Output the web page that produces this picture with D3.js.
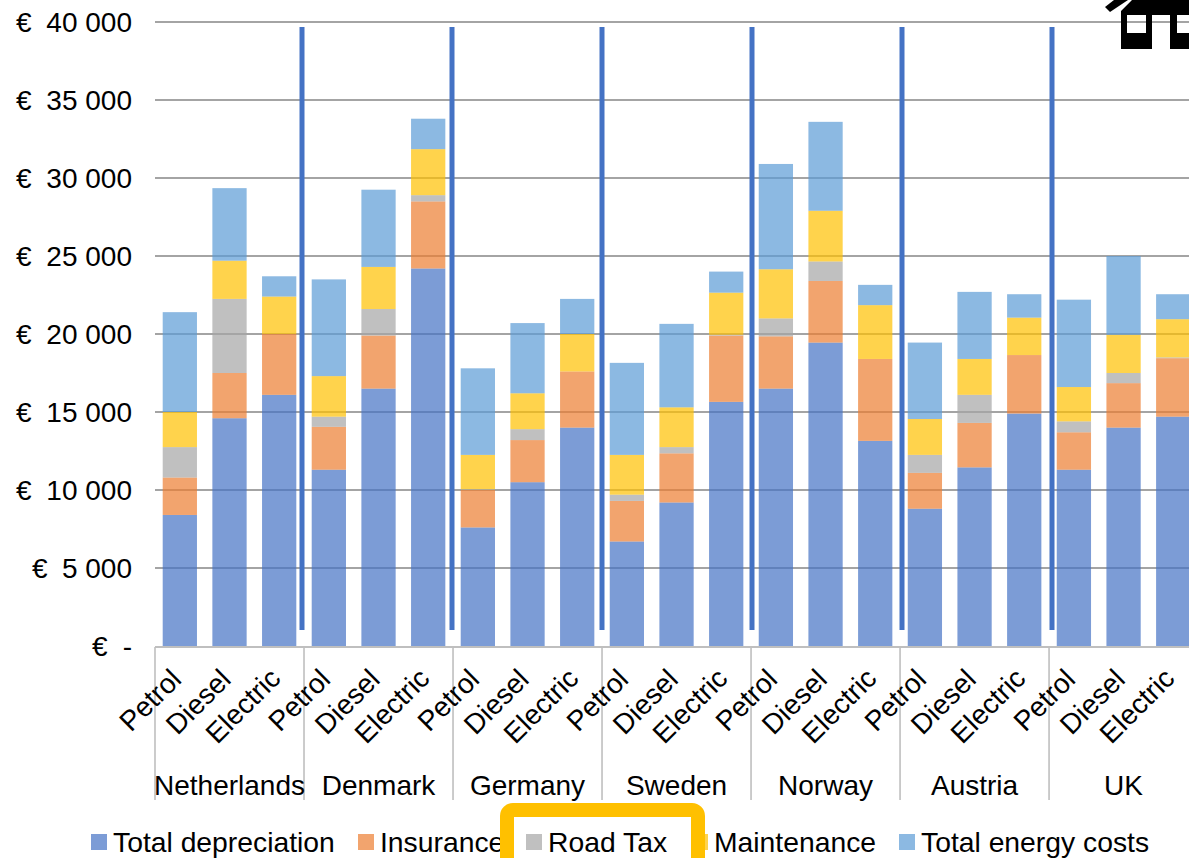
<!DOCTYPE html>
<html>
<head>
<meta charset="utf-8">
<script src="https://cdn.jsdelivr.net/npm/d3@7"></script>
<style>
  html, body { margin: 0; padding: 0; background: #fff; overflow: hidden; }
  text { font-family: "Liberation Sans", Arial, sans-serif; fill: #000; }
</style>
</head>
<body>
<svg id="chart" width="1189" height="858"></svg>
<script>
const countries = ['Netherlands', 'Denmark', 'Germany', 'Sweden', 'Norway', 'Austria', 'UK'];
const fuels = ['Petrol', 'Diesel', 'Electric'];
const seriesNames = ['Total depreciation', 'Insurance', 'Road Tax', 'Maintenance', 'Total energy costs'];
const seriesColors = ['#4472c4', '#ed7d31', '#a5a5a5', '#ffc000', '#5b9bd5'];
const yTicks = [0, 5000, 10000, 15000, 20000, 25000, 30000, 35000, 40000];

// values per bar, left to right: Petrol, Diesel, Electric for each country
const depreciation = [8400, 14600, 16100, 11300, 16500, 24200, 7600, 10500, 14000, 6700, 9200, 15650, 16500, 19450, 13150, 8800, 11450, 14900, 11300, 14000, 14700];
const insurance = [2400, 2900, 3900, 2750, 3400, 4300, 2400, 2700, 3600, 2600, 3150, 4250, 3350, 3950, 5250, 2300, 2850, 3750, 2400, 2850, 3750];
const roadTax = [1950, 4750, 0, 650, 1700, 400, 50, 700, 0, 400, 400, 50, 1150, 1250, 0, 1150, 1800, 0, 700, 650, 50];
const maintenance = [2250, 2450, 2400, 2600, 2700, 2950, 2200, 2300, 2400, 2550, 2550, 2700, 3150, 3250, 3450, 2300, 2300, 2400, 2200, 2450, 2450];
const energy = [6400, 4650, 1300, 6200, 4950, 1950, 5550, 4500, 2250, 5900, 5350, 1350, 6750, 5700, 1300, 4900, 4300, 1500, 5600, 5050, 1600];

const width = 1189, height = 858;
const svg = d3.select('#chart');
const fontSize = '28px';

const bars = d3.range(depreciation.length).map(i => ({
  i: i,
  0: depreciation[i], 1: insurance[i], 2: roadTax[i], 3: maintenance[i], 4: energy[i]
}));

const x = d3.scaleBand()
  .domain(d3.range(bars.length))
  .range([155, 155 + 49.67 * bars.length])
  .paddingInner(0.31)
  .paddingOuter(0.155);
const xGroup = d3.scaleLinear().domain([0, countries.length]).range([155, 155 + 49.67 * bars.length]);
const y = d3.scaleLinear().domain([0, 40000]).range([646, 22]);

// gridlines
svg.append('g').selectAll('line')
  .data(yTicks.slice(1))
  .enter().append('line')
  .attr('x1', 155).attr('x2', width)
  .attr('y1', d => y(d)).attr('y2', d => y(d))
  .attr('stroke', '#868686').attr('stroke-width', 1.6);

// stacked bars
const stack = d3.stack().keys(d3.range(seriesNames.length));
svg.append('g').selectAll('g')
  .data(stack(bars))
  .enter().append('g')
  .attr('fill', (d, i) => seriesColors[i])
  .attr('fill-opacity', 0.7)
  .selectAll('rect')
  .data(d => d)
  .enter().append('rect')
  .attr('x', d => x(d.data.i))
  .attr('width', x.bandwidth())
  .attr('y', d => y(d[1]))
  .attr('height', d => y(d[0]) - y(d[1]));

// y axis labels, euro sign sits apart from the number
const fmt = v => v === 0 ? '-' : d3.format(',')(v).replace(',', ' ');
const yAxis = svg.append('g')
  .attr('transform', 'translate(132,1)')
  .call(d3.axisLeft(y).tickValues(yTicks).tickSize(0).tickPadding(0).tickFormat(fmt));
yAxis.select('.domain').remove();
yAxis.selectAll('text').style('font-size', fontSize).style('font-family', '"Liberation Sans", Arial, sans-serif').attr('fill', '#000');
svg.append('g').selectAll('text')
  .data(yTicks)
  .enter().append('text')
  .attr('x', d => d === 5000 ? 32 : d === 0 ? 92 : 16)
  .attr('y', d => y(d) + 1)
  .attr('dy', '0.32em')
  .style('font-size', fontSize)
  .text('€');

// category axis
svg.append('line')
  .attr('x1', 155).attr('x2', width)
  .attr('y1', 647).attr('y2', 647)
  .attr('stroke', '#bfbfbf').attr('stroke-width', 2);
svg.append('g').selectAll('line')
  .data(d3.range(countries.length))
  .enter().append('line')
  .attr('x1', d => xGroup(d)).attr('x2', d => xGroup(d))
  .attr('y1', 647).attr('y2', 800)
  .attr('stroke', '#bfbfbf').attr('stroke-width', 1.6);

svg.append('g').selectAll('text')
  .data(bars)
  .enter().append('text')
  .attr('transform', d => `translate(${x(d.i) + x.bandwidth() / 2 + 3},${d.i % 3 === 2 ? 680 : 681}) rotate(-45)`)
  .attr('text-anchor', 'end')
  .style('font-size', fontSize)
  .text(d => fuels[d.i % 3]);

svg.append('g').selectAll('text')
  .data(countries)
  .enter().append('text')
  .attr('x', (d, i) => xGroup(i + 0.5))
  .attr('y', 795)
  .attr('text-anchor', 'middle')
  .style('font-size', fontSize)
  .text(d => d);

// vertical separators added over the chart
const dividerX = [302, 452, 602, 752, 902, 1052];
svg.append('g').selectAll('line')
  .data(dividerX)
  .enter().append('line')
  .attr('x1', d => d).attr('x2', d => d)
  .attr('y1', 27).attr('y2', 630)
  .attr('stroke', '#4472c4').attr('stroke-width', 5);

// house icon cut off in the corner
svg.append('path')
  .attr('fill', '#000')
  .attr('fill-rule', 'evenodd')
  .attr('d', 'M1121,49V11L1132,0H1189V49H1170V15H1152V49Z M1127,15V33H1146V15Z M1177,15V33H1189V15Z');
svg.append('path')
  .attr('d', 'M1105,7L1114,0H1128L1110,12Z')
  .attr('fill', '#000');

// legend
const legendX = [91, 358, 526, 692, 899];
const legend = svg.append('g').selectAll('g')
  .data(seriesNames)
  .enter().append('g')
  .attr('transform', (d, i) => `translate(${legendX[i]},0)`);
legend.append('rect')
  .attr('y', 834).attr('width', 16).attr('height', 16)
  .attr('fill', (d, i) => seriesColors[i]).attr('fill-opacity', 0.7);
legend.append('text')
  .attr('x', 22).attr('y', 852)
  .style('font-size', '28.3px')
  .text(d => d);

// highlight box round Road Tax
svg.append('rect')
  .attr('x', 507).attr('y', 810)
  .attr('width', 191).attr('height', 70)
  .attr('rx', 6)
  .attr('fill', 'none')
  .attr('stroke', '#ffc000').attr('stroke-width', 14);
</script>
</body>
</html>
